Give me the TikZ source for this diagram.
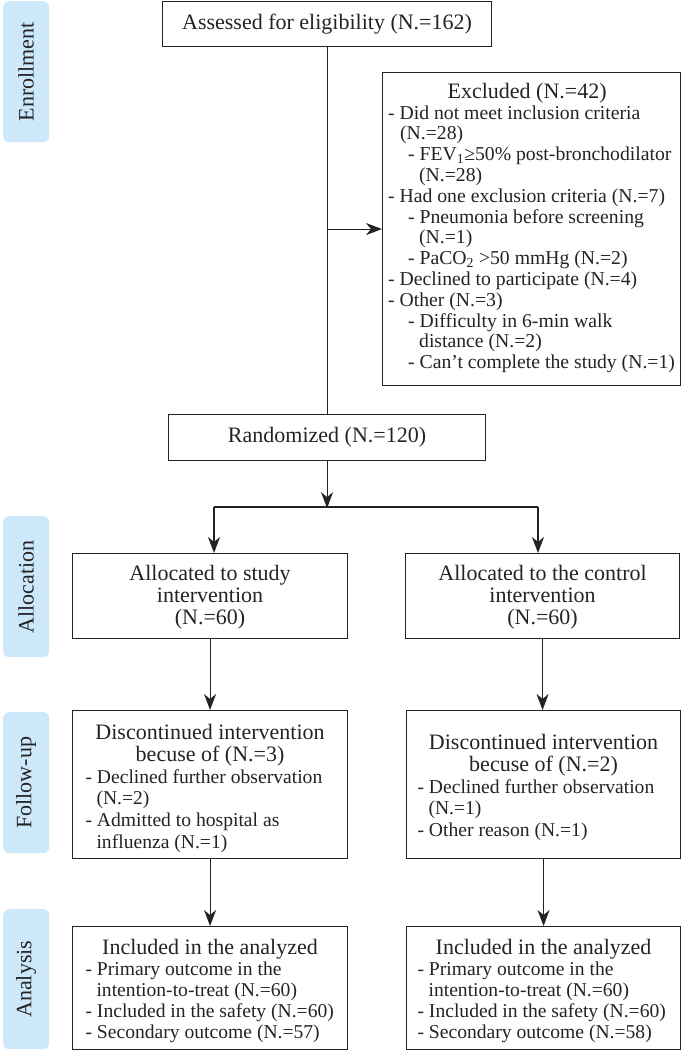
\documentclass[tikz,border=0pt]{standalone}
\usepackage{fontspec}
\setmainfont{Liberation Serif}
\usetikzlibrary{arrows.meta,calc}
\definecolor{lblue}{RGB}{205,232,250}
\definecolor{ink}{RGB}{35,35,35}
\newcommand\ttl[2]{\makebox[#1]{\fontsize{22}{22}\selectfont #2}}
\newcommand\shiftdown[2]{\raisebox{-#1}[\height][\depth]{#2}}
\begin{document}
\begin{tikzpicture}[x=1pt,y=-1pt,
  every node/.style={font=\fontsize{22}{21}\selectfont, text=ink},
  box/.style={draw=ink, line width=1.1pt, inner sep=0pt, anchor=north west, align=center},
  lab/.style={fill=lblue, rounded corners=6pt, inner sep=0pt, anchor=north west, minimum width=46},
  conn/.style={draw=ink, line width=1.1pt},
  arr/.style={conn, -{Stealth[length=16pt,width=12pt,inset=5pt]}}]
\useasboundingbox (0,0) rectangle (681,1051);
% side labels
\node[lab, minimum height=141] (lenr) at (3,1) {\rotatebox{90}{Enrollment}};
\node[lab, minimum height=141] (lall) at (3,516) {\rotatebox{90}{Allocation}};
\node[lab, minimum height=141] (lfol) at (3,712) {\rotatebox{90}{Follow-up}};
\node[lab, minimum height=140] (lana) at (3,909) {\rotatebox{90}{Analysis}};
% boxes
\node[box, minimum width=329, minimum height=45] (assess) at (162,1) {Assessed for eligibility (N.=162)};
\node[box, minimum width=298, minimum height=313, font=\fontsize{19.7}{20.8}\selectfont] (excl) at (382,72) {\begin{tabular}{@{}l@{}}
\ttl{278pt}{Excluded (N.=42)}\\
- Did not meet inclusion criteria\\
\hspace*{12pt}(N.=28)\\
\hspace*{20pt}- FEV\textsubscript{1}≥50\% post-bronchodilator\\
\hspace*{31pt}(N.=28)\\
- Had one exclusion criteria (N.=7)\\
\hspace*{20pt}- Pneumonia before screening\\
\hspace*{31pt}(N.=1)\\
\hspace*{20pt}- PaCO\textsubscript{2} >50 mmHg (N.=2)\\
- Declined to participate (N.=4)\\
- Other (N.=3)\\
\hspace*{20pt}- Difficulty in 6-min walk\\
\hspace*{31pt}distance (N.=2)\\
\hspace*{20pt}- Can't complete the study (N.=1)
\end{tabular}};
\node[box, minimum width=317, minimum height=46] (rand) at (168,414) {Randomized (N.=120)};
\node[box, minimum width=275, minimum height=85, font=\fontsize{22}{21.5}\selectfont] (alloc1) at (72,553) {\shiftdown{2pt}{\begin{tabular}{@{}c@{}}Allocated to study\\ intervention\\ (N.=60)\end{tabular}}};
\node[box, minimum width=274, minimum height=85, font=\fontsize{22}{21.5}\selectfont] (alloc2) at (405,553) {\shiftdown{2pt}{\begin{tabular}{@{}c@{}}Allocated to the control\\ intervention\\ (N.=60)\end{tabular}}};
\node[box, minimum width=275, minimum height=148, font=\fontsize{19.6}{21.6}\selectfont] (fu1) at (72,710) {\shiftdown{5pt}{\begin{tabular}{@{}l@{}}
\ttl{249pt}{Discontinued intervention}\\
\ttl{249pt}{becuse of (N.=3)}\\
- Declined further observation\\
\hspace*{11pt}(N.=2)\\
- Admitted to hospital as\\
\hspace*{11pt}influenza (N.=1)
\end{tabular}}};
\node[box, minimum width=274, minimum height=148, font=\fontsize{19.6}{21.6}\selectfont] (fu2) at (406,710) {\shiftdown{4pt}{\begin{tabular}{@{}l@{}}
\ttl{252pt}{Discontinued intervention}\\
\ttl{252pt}{becuse of (N.=2)}\\
- Declined further observation\\
\hspace*{11pt}(N.=1)\\
- Other reason (N.=1)
\end{tabular}}};
\node[box, minimum width=275, minimum height=123, font=\fontsize{19.6}{21}\selectfont] (an1) at (72,926) {\shiftdown{4pt}{\begin{tabular}{@{}l@{}}
\ttl{249pt}{Included in the analyzed}\\
- Primary outcome in the\\
\hspace*{11pt}intention-to-treat (N.=60)\\
- Included in the safety (N.=60)\\
- Secondary outcome (N.=57)
\end{tabular}}};
\node[box, minimum width=274, minimum height=123, font=\fontsize{19.6}{21}\selectfont] (an2) at (406,926) {\shiftdown{4pt}{\begin{tabular}{@{}l@{}}
\ttl{252pt}{Included in the analyzed}\\
- Primary outcome in the\\
\hspace*{11pt}intention-to-treat (N.=60)\\
- Included in the safety (N.=60)\\
- Secondary outcome (N.=58)
\end{tabular}}};
% connectors
\draw[conn] (assess.south) -- (rand.north);
\draw[arr] (assess.south |- excl.west) -- (excl.west);
\coordinate (split) at ($(rand.south)+(0,47)$);
\coordinate (sL) at (214,507);
\coordinate (sR) at (538,507);
\draw[arr] (rand.south) -- (split);
\draw[conn] (sL) -- (sR);
\draw[arr] (sL) -- (sL |- alloc1.north);
\draw[arr] (sR) -- (sR |- alloc2.north);
\draw[arr] (alloc1.south) -- (alloc1.south |- fu1.north);
\draw[arr] (alloc2.south) -- (alloc2.south |- fu2.north);
\draw[arr] (fu1.south) -- (fu1.south |- an1.north);
\draw[arr] (fu2.south) -- (fu2.south |- an2.north);
\end{tikzpicture}
\end{document}
